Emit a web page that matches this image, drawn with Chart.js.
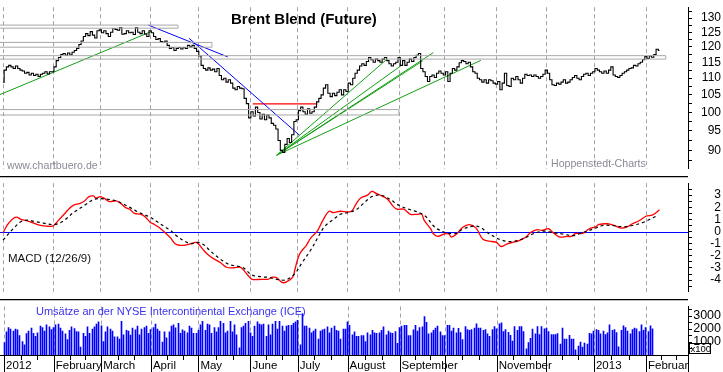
<!DOCTYPE html>
<html><head><meta charset="utf-8">
<script src="https://cdn.jsdelivr.net/npm/chart.js@4.4.1/dist/chart.umd.min.js"></script>
<style>
html,body{margin:0;padding:0;background:#fff;width:723px;height:372px;overflow:hidden}
.c{position:absolute;left:0;width:723px}
</style></head>
<body>
<div class="c" style="top:0;height:176px"><canvas id="cp"></canvas></div>
<div class="c" style="top:176px;height:123px"><canvas id="cm"></canvas></div>
<div class="c" style="top:299px;height:73px"><canvas id="cv"></canvas></div>
<script>
// ---------- DATA ----------
const TITLE = 'Brent Blend (Future)';
// trading-day index of each month start (Jan 2012 .. Mar 2013)
const monthStarts = [0, 22, 43, 65, 86, 109, 130, 152, 175, 195, 218, 240, 261, 284, 304];
const monthLabels = ['2012', 'February', 'March', 'April', 'May', 'June', 'July', 'August', 'September', '', 'November', '', '2013', 'Februar', ''];

// daily closes (USD), index 0 = 2 Jan 2012
const closes = [
 108.8,112.5,113.5,114,113.5,113,113.8,113,112.5,112.2,111.5,111.8,111,111.5,110.8,111.2,110.5,111.2,111.5,112,111.3,112,
 112,113.5,115.5,116.5,117.5,117.8,117.2,118,117.3,118.2,118.8,119.5,120.8,122,123.5,124.5,123.8,125.2,124,123,125.5,
 125.8,124.8,125.5,124.5,123.5,125,126.3,126,125.7,126.5,124.3,124.5,125.5,124.8,125,124.2,126.5,125,124.5,125.5,124.4,123.5,
 125.5,124.8,123.5,122.5,122.8,121.8,121.5,122,120.5,119.5,119.8,118.8,119.5,119.8,119.3,119.8,119.5,120.5,120,120.5,119.5,
 118.5,117,114,113,112.5,113.2,112.5,112.8,112,113,110.8,109.5,110,108.8,109.5,108.5,107,106.5,107.5,107,106.8,104,102.5,
 98.5,100.2,99,101.5,100,98.2,99.5,98,99.3,98.5,97,96.5,95.5,92.5,90,89.5,91.5,93,92,94,97.5,
 98,100.5,101.5,100.2,99.5,101,99.8,100.2,101.5,103,104,105,107,108,105.5,104.5,105.5,104.8,105.8,106.5,105,106.5,
 106,108.5,108,110,111.5,112.5,113.8,114.5,114,115.2,116.5,115.8,115,116,115.5,115,116,116.5,115.5,114.5,113.8,114.5,115,
 116.5,114,115.5,114,115,116,115.2,116.5,117.2,117.8,113,112,110.5,109,110.5,111,110.2,111.5,112.2,111.5,
 111,112,109,111.5,113,112.5,113.5,114.8,115.5,115.2,114.5,115,113.5,112,111.5,110,109.5,108.8,109.5,108.5,109.5,109.2,108.5,
 108.2,109,106.5,108.5,111.5,107.8,107.5,110,109.5,110.5,109.5,108.5,110,111.2,110.8,111,110.5,111,110.5,110,110.5,111.2,
 112.5,111.5,109.5,108,107.8,108.5,108.2,108.8,109.5,108.5,108.8,109.5,110.2,110.8,110,109.5,110.5,111.2,111.5,110.8,111.5,
 112,113,112.5,112,111.5,112.2,111.5,112.5,113.5,111,110.5,110.2,110.8,111.5,112,112.5,113,113.2,114,113.8,114.5,115,115.8,
 116.8,116.2,117,116.6,117.5,119.2,118.8
];

// MACD (12/26/9): [day index, value]
const macdDays = [0,2,4,6,8,11,13,16,19,22,24,27,29,31,34,36,38,40,41,43,45,47,50,52,54,56,58,61,63,65,67,69,72,74,76,78,80,83,85,86,89,91,93,96,99,102,105,108,110,114,117,119,121,123,125,128,129,131,134,136,139,141,144,146,149,152,154,156,158,161,163,165,167,170,172,174,177,180,183,185,186,189,190,192,195,197,198,200,203,206,209,212,216,218,220,223,225,228,231,233,236,238,241,243,246,249,251,253,256,259,262,263,267,270,273,276,278,281,284,287,290];
const macdVals = [-0.1,0.57,1.0,1.18,1.0,0.86,0.74,0.52,0.45,0.45,0.82,1.42,1.84,2.15,2.32,2.52,2.88,2.93,2.76,2.88,2.71,2.47,2.52,2.32,1.99,1.84,1.5,1.42,1.18,0.77,0.57,0.33,-0.16,-0.52,-1.0,-1.13,-1.13,-1.0,-0.89,-0.96,-1.62,-1.98,-2.23,-2.55,-2.96,-2.98,-2.95,-3.56,-3.93,-3.93,-3.93,-3.76,-3.8,-4.17,-4.17,-3.76,-3.08,-1.86,-1.13,-0.52,0.08,0.82,1.67,1.55,1.67,1.62,1.67,2.28,2.76,3.0,3.3,3.12,2.96,2.64,2.15,1.84,1.84,1.42,1.42,1.42,0.94,0.2,-0.16,-0.4,-0.2,-0.2,-0.45,-0.27,0.33,0.57,0.28,-0.64,-0.82,-0.89,-1.23,-0.99,-0.89,-0.74,-0.45,-0.09,0.16,0.09,0.23,-0.09,-0.45,-0.4,-0.4,-0.16,-0.15,0.23,0.4,0.57,0.64,0.5,0.28,0.4,0.64,0.89,1.26,1.37,1.79];
const signalDays = [0,2,5,8,11,13,18,22,25,28,31,34,37,40,43,47,50,53,56,59,62,65,68,71,74,77,80,83,86,89,91,94,97,100,103,106,110,115,117,121,125,129,132,136,139,142,146,149,152,156,159,163,167,171,175,180,184,187,190,192,196,200,203,208,211,214,220,225,230,234,239,243,247,252,256,261,265,269,274,278,283,287,289];
const signalVals = [-0.7,-0.28,0.33,0.82,0.94,0.86,0.69,0.57,0.69,1.06,1.55,1.91,2.28,2.64,2.71,2.64,2.52,2.28,1.99,1.67,1.42,1.18,0.82,0.45,0.09,-0.4,-0.77,-1.0,-0.89,-1.13,-1.5,-1.98,-2.4,-2.72,-2.83,-2.96,-3.58,-3.74,-3.76,-3.93,-3.98,-3.45,-2.59,-1.5,-0.52,0.4,1.0,1.42,1.55,1.79,2.28,2.88,3.0,2.64,2.15,1.79,1.55,1.2,0.5,0.2,-0.11,-0.16,0.2,0.45,0.33,-0.09,-0.69,-0.82,-0.57,-0.2,0.04,-0.09,-0.2,-0.33,-0.09,0.23,0.5,0.5,0.4,0.5,0.77,1.13,1.3];

// daily volume (x100)
const volumes = [
 960,1780,2110,2000,1840,2000,1930,1490,1040,780,1650,
 1840,2070,1670,1440,1710,2220,2110,1840,2330,2160,1950,
 2110,2330,2380,2070,1840,1620,1180,1890,2160,2040,1800,
 1780,600,1670,1440,2160,1670,2000,2160,2380,2560,2250,
 1040,1780,2160,2000,1840,1400,1400,1220,2600,1560,1900,
 1840,1530,2070,1930,2220,1560,2000,2110,2220,1670,1950,
 2110,2380,2000,1840,1000,1780,1330,1780,2220,2330,2100,
 2440,1670,1930,1840,1710,2220,2070,1670,1670,1890,
 2330,2600,1890,2380,2330,1670,2110,1780,2110,2600,
 2440,1710,1840,2600,
 1780,2330,1560,560,2110,2220,2440,2600,1710,1440,
 2220,2560,2380,2330,2380,1440,2330,1560,2380,2600,2000,
 2600,2220,1840,2220,2290,2290,2440,2560,2670,780,
 3180,2220,2220,2070,1710,1840,2000,1220,1840,1930,
 2000,2160,1710,2070,2220,1900,1840,1220,2000,2000,2560,
 2290,1560,1780,1440,1440,1490,1490,1040,1710,1560,
 1890,1710,1670,1710,1890,2160,1560,1840,1710,1670,1800,
 890,2110,2220,2290,2290,1490,1490,1930,2290,1840,
 2110,2160,2960,2510,1620,1710,1890,2070,2220,1780,
 1490,1490,2290,2290,1840,2070,1710,2050,
 1730,1180,2180,1960,1890,1960,2070,2400,2070,2070,1900,
 1960,1620,1440,1960,2180,2020,2400,2470,1800,1960,1750,
 1510,1070,2180,1890,2180,2180,1800,470,960,1290,2000,
 1620,2180,1580,2180,2020,2070,1800,1580,1580,1580,1650,
 840,2070,1220,1220,1510,1220,1220,400,690,1000,600,
 910,840,1670,1620,1840,1960,1890,1620,1840,1580,1700,
 2330,1890,1960,1730,620,1890,2240,2110,1840,1620,1950,
 2070,2020,1800,2330,1890,2110,1800,2240,2020
];

// horizontal zones (price bands): start day, end day, low, high
const zoneStart = [-1.33, -1.33, -1.33, -1.33];
const zoneEnd   = [77.3, 92.3, 292.8, 174.9];
const zoneLow   = [126.4, 119.9, 116.0, 99.3];
const zoneHigh  = [127.5, 121.5, 117.1, 100.8];

// trend lines: [day0, price0, day1, price1]
const greenLines = [
 [-1.33, 105.1, 65.7, 125.3],
 [120.9, 88.8, 169.5, 115.9],
 [120.9, 88.8, 176.8, 114.4],
 [120.9, 88.8, 185.4, 115.4],
 [120.9, 88.8, 190.1, 118.1],
 [120.9, 88.8, 211.1, 115.6]
];
const blueLines = [
 [64.2, 127.5, 99.3, 116.7],
 [82.2, 122.9, 130.9, 93.9]
];
const redLines = [
 [110.3, 102.4, 138.9, 102.4]
];

// axis ticks
const priceTicks = [87.5,90,92.5,95,97.5,100,102.5,105,107.5,110,112.5,115,117.5,120,122.5,125,127.5,130,132.5];
const priceLabels = [90,95,100,105,110,115,120,125,130];
const macdTicks = [-4.5,-4,-3.5,-3,-2.5,-2,-1.5,-1,-0.5,0,0.5,1,1.5,2,2.5,3,3.5];
const macdLabels = [-4,-3,-2,-1,0,1,2,3];
const volTicks = [500,1000,1500,2000,2500,3000,3500];
const volLabels = [1000,2000,3000];

// ---------- RENDER ----------
const FONT = "'Liberation Sans', Arial, Helvetica, sans-serif";
Chart.defaults.font.family = FONT;
Chart.defaults.color = '#000';
const X_MIN = -1.33, X_MAX = 302.6;
const GRID = '#a59fae';

function xAxisHidden() {
  return {type: 'linear', min: X_MIN, max: X_MAX, bounds: 'data', display: false};
}
function yAxis(type, min, max, ticks, labels, fontSize) {
  return {
    type, position: 'right', min, max, bounds: 'data',
    afterBuildTicks: s => { s.ticks = ticks.map(v => ({value: v})); },
    afterFit: s => { s.width = 33; },
    ticks: {autoSkip: false, crossAlign: 'far', padding: 0, color: '#000',
      font: {size: fontSize},
      callback: v => labels.includes(v) ? String(v) : ''},
    grid: {drawOnChartArea: false, drawTicks: true, tickLength: 4, tickColor: '#000', tickWidth: 1},
    border: {display: true, color: '#000', width: 1}
  };
}
function vgrid(chart) {
  const {ctx, chartArea: a, scales: {x}} = chart;
  ctx.save();
  ctx.strokeStyle = GRID; ctx.lineWidth = 1; ctx.setLineDash([4, 3]);
  monthStarts.forEach(m => {
    if (m < X_MIN || m > X_MAX) return;
    const px = Math.round(x.getPixelForValue(m)) + 0.5;
    ctx.beginPath(); ctx.moveTo(px, a.top); ctx.lineTo(px, a.bottom); ctx.stroke();
  });
  ctx.restore();
}
function seg(arr) { return [{x: arr[0], y: arr[1]}, {x: arr[2], y: arr[3]}]; }
function lineDs(data, color, width, extra) {
  return Object.assign({type: 'line', data, borderColor: color, borderWidth: width,
    pointRadius: 0, fill: false, tension: 0}, extra || {});
}
const common = {
  responsive: true, maintainAspectRatio: false, animation: false, devicePixelRatio: 1,
  layout: {padding: {left: 0, right: 2, top: 0, bottom: 0}, autoPadding: false},
  plugins: {legend: {display: false}, tooltip: {enabled: false}},
  events: []
};

// ---- price chart ----
const priceDatasets = [];
zoneStart.forEach((s, i) => {
  priceDatasets.push(lineDs([
    {x: s, y: zoneLow[i]}, {x: zoneEnd[i], y: zoneLow[i]},
    {x: zoneEnd[i], y: zoneHigh[i]}, {x: s, y: zoneHigh[i]}], '#a8a8a8', 1));
});
priceDatasets.push(lineDs(closes.map((v, i) => ({x: i, y: v})), '#000', 1.1, {stepped: 'middle'}));
greenLines.forEach(l => priceDatasets.push(lineDs(seg(l), '#12a012', 1)));
blueLines.forEach(l => priceDatasets.push(lineDs(seg(l), '#0000ff', 1)));
redLines.forEach(l => priceDatasets.push(lineDs(seg(l), '#ff0000', 1.3)));

new Chart(document.getElementById('cp'), {
  type: 'line',
  data: {datasets: priceDatasets},
  options: Object.assign({}, common, {
    scales: {x: xAxisHidden(), y: yAxis('logarithmic', 85.5, 134, priceTicks, priceLabels, 12)}
  }),
  plugins: [{
    id: 'pdeco',
    beforeDatasetsDraw: c => vgrid(c),
    afterDraw(c) {
      const ctx = c.ctx; ctx.save();
      ctx.textBaseline = 'middle'; ctx.textAlign = 'left';
      ctx.fillStyle = '#000'; ctx.font = `bold 15px ${FONT}`;
      ctx.fillText(TITLE, 231, 20);
      ctx.fillStyle = '#8a8a98'; ctx.font = `10.6px ${FONT}`;
      ctx.fillText('www.chartbuero.de', 7, 166);
      ctx.fillText('Hoppenstedt-Charts', 551, 164);
      ctx.restore();
    }
  }]
});

// ---- MACD chart ----
new Chart(document.getElementById('cm'), {
  type: 'line',
  data: {datasets: [
    lineDs(signalDays.map((d, i) => ({x: d, y: signalVals[i]})), '#000', 1.2, {borderDash: [3, 3], tension: 0.35}),
    lineDs(macdDays.map((d, i) => ({x: d, y: macdVals[i]})), '#ff0000', 1.3, {tension: 0.35})
  ]},
  options: Object.assign({}, common, {
    scales: {x: xAxisHidden(), y: yAxis('linear', -4.96, 3.98, macdTicks, macdLabels, 12)}
  }),
  plugins: [{
    id: 'mdeco',
    beforeDatasetsDraw(c) {
      vgrid(c);
      const {ctx, chartArea: a, scales: {y}} = c;
      ctx.save();
      const py = Math.round(y.getPixelForValue(0)) + 0.5;
      ctx.strokeStyle = '#0000ff'; ctx.lineWidth = 1.2;
      ctx.beginPath(); ctx.moveTo(a.left, py); ctx.lineTo(a.right, py); ctx.stroke();
      ctx.restore();
    },
    afterDraw(c) {
      const {ctx, chartArea: a} = c; ctx.save();
      ctx.strokeStyle = '#000'; ctx.lineWidth = 1.2;
      ctx.beginPath(); ctx.moveTo(0, 0.6); ctx.lineTo(a.right, 0.6); ctx.stroke();
      ctx.fillStyle = '#111'; ctx.font = `11.5px ${FONT}`; ctx.textBaseline = 'middle';
      ctx.fillText('MACD (12/26/9)', 8, 82.5);
      ctx.restore();
    }
  }]
});

// ---- volume chart ----
new Chart(document.getElementById('cv'), {
  type: 'bar',
  data: {datasets: [{
    data: volumes.map((v, i) => ({x: i, y: v})),
    backgroundColor: '#0000ff', borderWidth: 0, barThickness: 1
  }]},
  options: Object.assign({}, common, {
    scales: {
      x: {
        type: 'linear', min: X_MIN, max: X_MAX, bounds: 'data', position: 'bottom', offset: false,
        afterBuildTicks: s => { s.ticks = monthStarts.filter(v => v <= X_MAX).map(v => ({value: v})); },
        afterFit: s => { s.height = 17; },
        ticks: {autoSkip: false, maxRotation: 0, minRotation: 0, align: 'start', labelOffset: 2,
          padding: 4, color: '#000', font: {size: 11.5},
          callback: (v) => monthLabels[monthStarts.indexOf(v)] || ''},
        grid: {display: false, drawTicks: false},
        border: {display: true, color: '#000', width: 1}
      },
      y: yAxis('linear', 0, 3733, volTicks, volLabels, 12.5)
    }
  }),
  plugins: [{
    id: 'vdeco',
    afterDatasetsUpdate(c) {
      // snap 1px bars onto whole pixels for crisp rendering
      c.getDatasetMeta(0).data.forEach(el => { el.x = Math.floor(el.x) + 0.5; el.width = 1; });
    },
    beforeDatasetsDraw: c => vgrid(c),
    afterDraw(c) {
      const {ctx, chartArea: a, scales: {x}} = c; ctx.save();
      ctx.strokeStyle = '#000'; ctx.lineWidth = 1.2;
      ctx.beginPath(); ctx.moveTo(0, 0.6); ctx.lineTo(a.right, 0.6); ctx.stroke();
      ctx.lineWidth = 1;
      ctx.beginPath(); ctx.moveTo(a.right + 0.5, a.bottom); ctx.lineTo(a.right + 0.5, c.height); ctx.stroke();
      for (let i = 0; i < monthStarts.length - 1; i++) {
        const m0 = monthStarts[i], m1 = monthStarts[i + 1];
        const px = Math.round(x.getPixelForValue(m0)) + 0.5;
        ctx.beginPath(); ctx.moveTo(px, a.bottom); ctx.lineTo(px, c.height); ctx.stroke();
        [1, 2].forEach(k => {
          const v = m0 + (m1 - m0) * k / 3;
          if (v > X_MAX) return;
          const q = Math.round(x.getPixelForValue(v)) + 0.5;
          ctx.beginPath(); ctx.moveTo(q, a.bottom); ctx.lineTo(q, a.bottom + 5); ctx.stroke();
        });
      }
      ctx.fillStyle = '#3b32f0'; ctx.font = `11px ${FONT}`; ctx.textBaseline = 'middle';
      ctx.fillText('Umsätze an der NYSE Intercontinental Exchange (ICE)', 36, 12.5);
      ctx.strokeStyle = '#000'; ctx.lineWidth = 1;
      ctx.strokeRect(689.5, 44.5, 21, 10);
      ctx.fillStyle = '#000'; ctx.font = `9.5px ${FONT}`;
      ctx.fillText('x100', 690.5, 50);
      ctx.restore();
    }
  }]
});
</script>
</body></html>
